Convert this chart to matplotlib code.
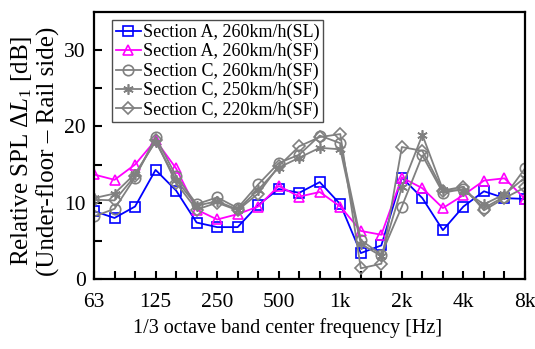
import matplotlib
matplotlib.use("Agg")
import matplotlib.pyplot as plt
import numpy as np

plt.rcParams['font.family'] = ['Liberation Serif', 'DejaVu Serif']
plt.rcParams['mathtext.fontset'] = 'custom'
plt.rcParams['mathtext.rm'] = 'Liberation Serif'
plt.rcParams['mathtext.it'] = 'Liberation Serif:italic'

bands = ['63', '80', '100', '125', '160', '200', '250', '315', '400', '500', '630',
         '800', '1k', '1.25k', '1.6k', '2k', '2.5k', '3.15k', '4k', '5k', '6.3k', '8k']
label_bands = ['63', '125', '250', '500', '1k', '2k', '4k', '8k']

a260_sl = [8.9, 8.0, 9.5, 14.3, 11.6, 7.4, 6.8, 6.8, 9.7, 11.8, 11.3,
           12.7, 9.8, 3.4, 4.4, 13.3, 10.6, 6.4, 9.5, 11.5, 10.6, 10.5]
a260_sf = [13.7, 13.0, 15.0, 18.2, 14.5, 9.1, 7.8, 8.5, 9.5, 12.2, 10.8,
           11.4, 9.5, 6.3, 5.8, 13.3, 11.9, 9.3, 11.0, 12.9, 13.2, 10.5]
c260_sf = [8.2, 9.2, 13.3, 18.6, 13.5, 9.8, 10.7, 9.3, 12.4, 15.2, 16.3,
           18.8, 17.8, 5.1, 3.2, 9.5, 16.2, 11.3, 11.8, 9.3, 10.8, 14.5]
c250_sf = [10.6, 11.2, 13.8, 18.0, 13.0, 9.6, 10.2, 9.1, 11.7, 14.6, 15.9,
           17.2, 17.0, 4.6, 3.0, 12.0, 18.9, 11.7, 11.6, 9.8, 11.1, 13.3]
c220_sf = [10.4, 10.3, 13.5, 18.2, 12.6, 9.1, 10.0, 9.0, 11.2, 14.8, 17.4,
           18.6, 19.0, 1.4, 2.0, 17.3, 16.8, 11.6, 12.1, 9.0, 10.6, 12.0]

series = [
    ('Section A, 260km/h(SL)', a260_sl, '#0000FF', 's'),
    ('Section A, 260km/h(SF)', a260_sf, '#FF00FF', '^'),
    ('Section C, 260km/h(SF)', c260_sf, '#808080', 'o'),
    ('Section C, 250km/h(SF)', c250_sf, '#808080', (6, 2, 0)),
    ('Section C, 220km/h(SF)', c220_sf, '#808080', 'D'),
]

fig = plt.figure(figsize=(5.35, 3.49), dpi=100)
ax = fig.add_axes([0.1757, 0.2006, 0.8056, 0.765])
x = np.arange(len(bands))
for name, vals, col, mk in series:
    ms = 6 if mk == 'D' else 7.5
    ax.plot(x, vals, color=col, lw=1.3, marker=mk, ms=ms, mfc='none',
            mec=col, mew=1.2, label=name)

ax.set_xlim(0, len(bands) - 1)
ax.set_ylim(0, 35)
ax.set_xticks(x, minor=True)
ax.set_xticks([bands.index(b) for b in label_bands])
ax.set_xticklabels(label_bands)
ax.set_yticks([0, 10, 20, 30])
ax.set_yticks([5, 15, 25], minor=True)
ax.tick_params(which='both', direction='in', top=False, right=False,
               labelsize=15.5, width=1.5)
ax.tick_params(axis='x', which='both', pad=10)
ax.tick_params(axis='y', which='both', pad=6)
ax.tick_params(which='major', length=6)
ax.tick_params(which='minor', length=6)
for s in ax.spines.values():
    s.set_linewidth(1.6)

ax.set_xlabel('1/3 octave band center frequency [Hz]', fontsize=14.5)
ax.xaxis.set_label_coords(0.45, -0.145)
ax.set_ylabel('Relative SPL $\\mathit{\\Delta L}_{1}$ [dB]\n(Under-floor \u2013 Rail side)',
              fontsize=18, linespacing=1.12)
ax.yaxis.set_label_coords(-0.08, 0.48)

leg = ax.legend(loc='upper left', bbox_to_anchor=(0.042, 0.97), fontsize=13,
                frameon=True, fancybox=False, edgecolor='#202020',
                handlelength=1.4, handletextpad=0.1, labelspacing=0.12,
                borderpad=0.2, borderaxespad=0)
leg.get_frame().set_linewidth(1.0)

fig.savefig('out.png', dpi=100)
